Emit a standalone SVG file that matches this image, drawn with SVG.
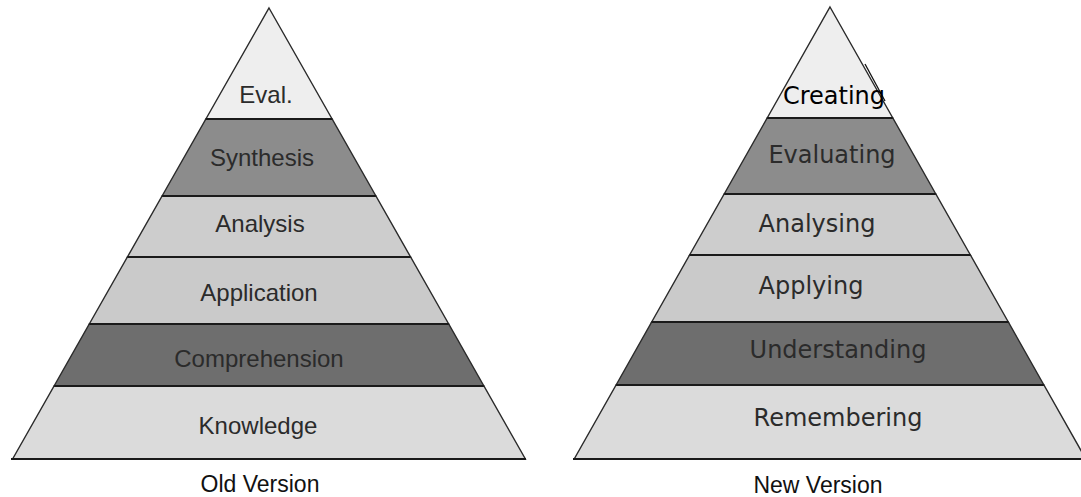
<svg xmlns="http://www.w3.org/2000/svg" width="1081" height="497" viewBox="0 0 1081 497">
<style>
  .band{stroke:#2a2a2a;stroke-width:1.4;stroke-linejoin:miter}
  .sep{stroke:#1a1a1a;stroke-width:2}
  .t1{font-family:"Liberation Sans",Arial,sans-serif;font-size:24px;fill:#2b2b2b;text-anchor:middle}
  .t2{font-family:"DejaVu Sans",Verdana,sans-serif;font-size:24px;fill:#2b2b2b;text-anchor:middle}
  .cap{font-family:"Liberation Sans",Arial,sans-serif;font-size:23px;fill:#111;text-anchor:middle}
  .l0{fill:#eeeeee}.l1{fill:#8c8c8c}.l2{fill:#cdcdcd}.l3{fill:#cacaca}.l4{fill:#6e6e6e}.l5{fill:#dbdbdb}
</style>
<rect width="1081" height="497" fill="#ffffff"/>

<!-- Old version pyramid -->
<g id="old-pyramid">
  <g id="eval"><polygon class="band l0" points="269,8 332.1,119 205.9,119"/><text class="t1" x="266" y="103">Eval.</text></g>
  <g id="synthesis"><polygon class="band l1" points="205.9,119 332.1,119 375.9,196 162.1,196"/><text class="t1" x="262" y="166">Synthesis</text></g>
  <g id="analysis"><polygon class="band l2" points="162.1,196 375.9,196 410.6,257 127.4,257"/><text class="t1" x="260" y="232">Analysis</text></g>
  <g id="application"><polygon class="band l3" points="127.4,257 410.6,257 448.7,324 89.3,324"/><text class="t1" x="259" y="301">Application</text></g>
  <g id="comprehension"><polygon class="band l4" points="89.3,324 448.7,324 483.9,386 54.1,386"/><text class="t1" x="259" y="367">Comprehension</text></g>
  <g id="knowledge"><polygon class="band l5" points="54.1,386 483.9,386 525.4,459 12.6,459"/><text class="t1" x="258" y="434">Knowledge</text></g>
  <g id="old-seps">
    <line class="sep" x1="205.9" y1="119" x2="332.1" y2="119"/>
    <line class="sep" x1="162.1" y1="196" x2="375.9" y2="196"/>
    <line class="sep" x1="127.4" y1="257" x2="410.6" y2="257"/>
    <line class="sep" x1="89.3" y1="324" x2="448.7" y2="324"/>
    <line class="sep" x1="54.1" y1="386" x2="483.9" y2="386"/>
    <line class="sep" x1="11" y1="459" x2="526" y2="459"/>
  </g>
  <text id="old-caption" class="cap" x="260" y="492">Old Version</text>
</g>

<!-- New version pyramid -->
<g id="new-pyramid">
  <g id="creating"><polygon class="band l0" points="830,7 892.8,118 767.2,118"/></g>
  <g id="evaluating"><polygon class="band l1" points="767.2,118 892.8,118 935.8,194 724.2,194"/><text class="t2" x="832" y="163">Evaluating</text></g>
  <g id="analysing"><polygon class="band l2" points="724.2,194 935.8,194 970.4,255 689.6,255"/><text class="t2" x="817" y="232">Analysing</text></g>
  <g id="applying"><polygon class="band l3" points="689.6,255 970.4,255 1008.3,322 651.7,322"/><text class="t2" x="811" y="294">Applying</text></g>
  <g id="understanding"><polygon class="band l4" points="651.7,322 1008.3,322 1043.9,385 616.1,385"/><text class="t2" x="838" y="358">Understanding</text></g>
  <g id="remembering"><polygon class="band l5" points="616.1,385 1043.9,385 1085.8,459 574.2,459"/><text class="t2" x="838" y="426">Remembering</text></g>
  <g id="new-seps">
    <line class="sep" x1="767.2" y1="118" x2="892.8" y2="118"/>
    <line class="sep" x1="724.2" y1="194" x2="935.8" y2="194"/>
    <line class="sep" x1="689.6" y1="255" x2="970.4" y2="255"/>
    <line class="sep" x1="651.7" y1="322" x2="1008.3" y2="322"/>
    <line class="sep" x1="616.1" y1="385" x2="1043.9" y2="385"/>
    <line class="sep" x1="573" y1="459" x2="1081" y2="459"/>
  </g>
  <line x1="865" y1="64" x2="885" y2="101" stroke="#111" stroke-width="1.3"/>
  <text class="t2" x="834" y="104" style="fill:#000">Creating</text>
  <text id="new-caption" class="cap" x="818" y="493">New Version</text>
</g>
</svg>
